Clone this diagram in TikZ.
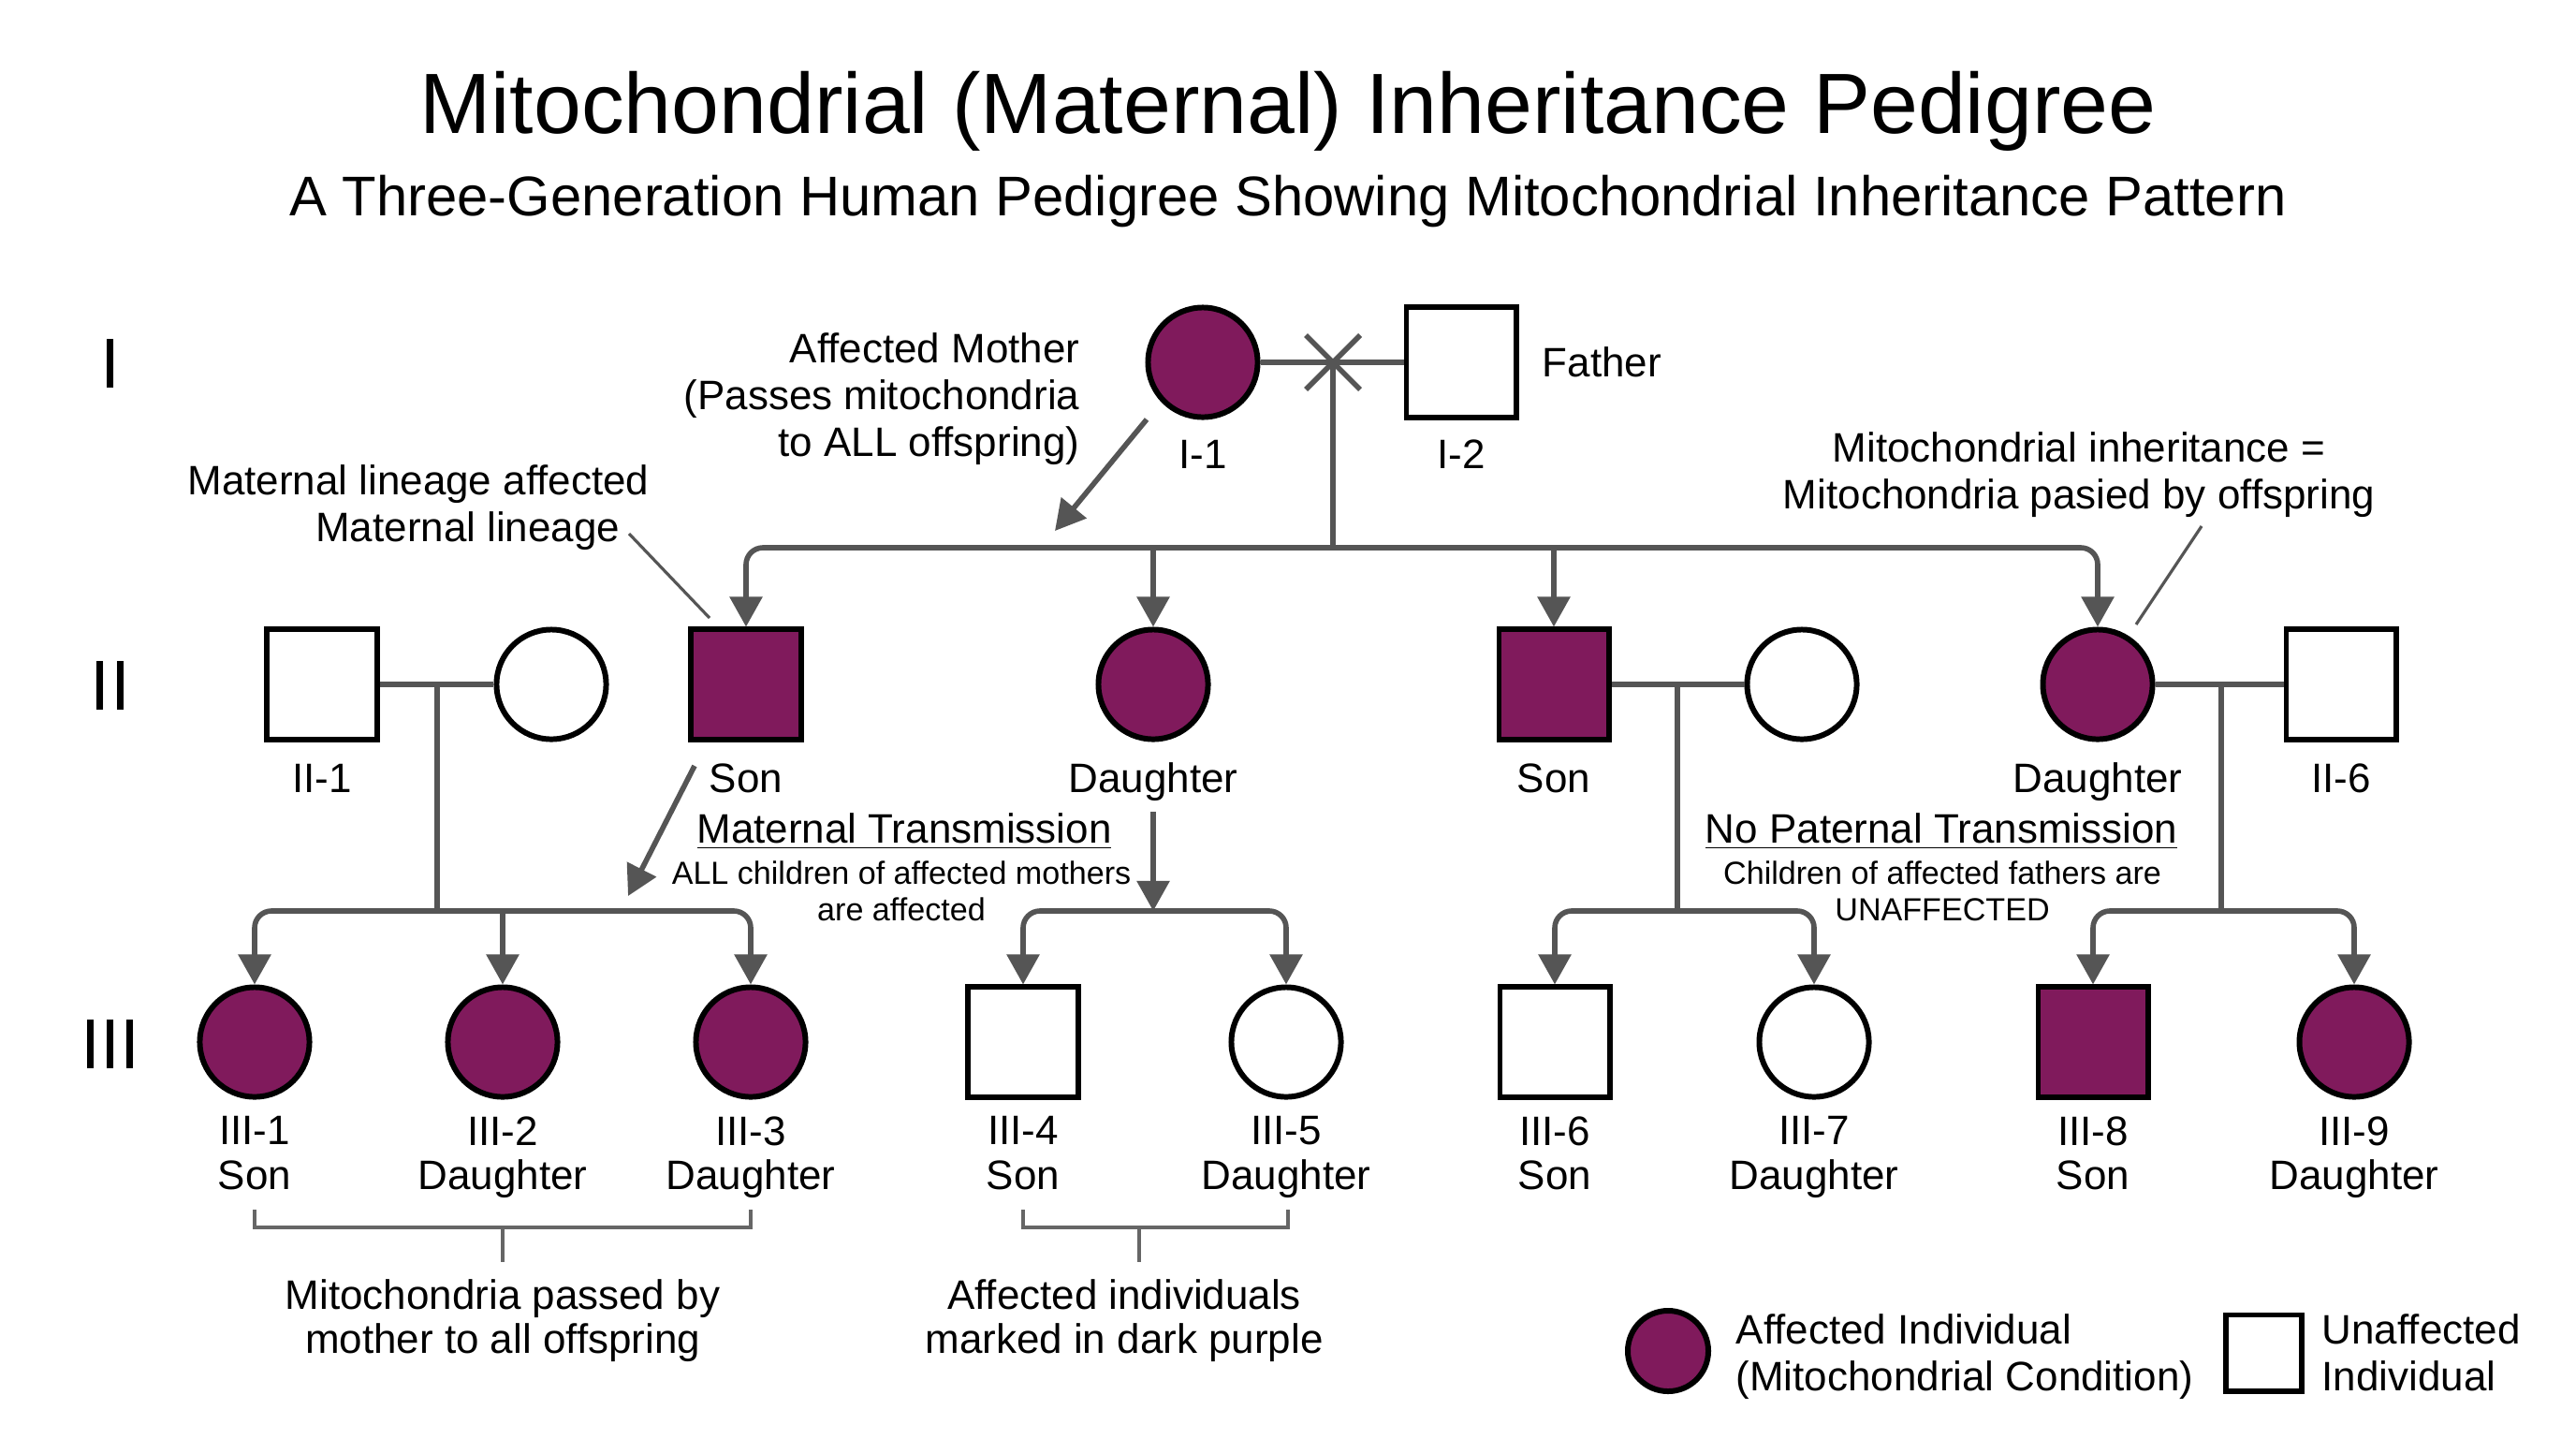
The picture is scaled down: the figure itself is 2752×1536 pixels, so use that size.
\documentclass[tikz,border=0pt]{standalone}
\usepackage{fontspec}
\setmainfont{Liberation Sans}
\usetikzlibrary{arrows.meta}
\definecolor{purp}{HTML}{801A5C}
\definecolor{lgray}{HTML}{555555}
\definecolor{bgray}{HTML}{666666}
\tikzset{
  ind/.style={draw=black, line width=1.7pt, fill=white, inner sep=0pt, minimum size=1.17cm},
  fem/.style={ind, circle},
  mal/.style={ind, rectangle},
  aff/.style={fill=purp},
  lbl/.style={inner sep=0pt, font=\fontsize{12.5}{14.2}\selectfont},
  lblthree/.style={inner sep=0pt, align=center, anchor=north, font=\fontsize{12.5}{13.4}\selectfont},
  smalltxt/.style={inner sep=0pt, align=center, anchor=north, font=\fontsize{9.7}{11.1}\selectfont},
  gen/.style={inner sep=0pt, anchor=base, font=\fontsize{21.5}{24}\selectfont},
  conn/.style={draw=lgray, line width=1.6pt},
  arrone/.style={-{Triangle[length=0.32cm,width=0.34cm]}},
  arrtwo/.style={{Triangle[length=0.32cm,width=0.34cm]}-{Triangle[length=0.32cm,width=0.34cm]}},
  pointer/.style={draw=lgray, line width=0.9pt},
  brk/.style={draw=bgray, line width=1.1pt},
}
\begin{document}
\begin{tikzpicture}[x=0.01cm, y=-0.01cm]
\fill[white] (0,0) rectangle (2752,1536);
\useasboundingbox (0,0) rectangle (2752,1536);

% titles
\node[inner sep=0pt, anchor=base, font=\fontsize{26}{30}\selectfont] (title) at (1376,142) {Mitochondrial (Maternal) Inheritance Pedigree};
\node[inner sep=0pt, anchor=base, font=\fontsize{17}{20}\selectfont] (subtitle) at (1376,230) {A Three-Generation Human Pedigree Showing Mitochondrial Inheritance Pattern};

% generation labels
\node[gen] (gI) at (118,414) {I};
\node[gen] (gII) at (118,758) {II};
\node[gen] (gIII) at (118,1141) {III};

% generation I
\node[fem, aff] (I1) at (1285,387) {};
\node[mal] (I2) at (1561,387) {};
\node[lbl, anchor=base] (I1l) at (1285,500) {I-1};
\node[lbl, anchor=base] (I2l) at (1561,500) {I-2};
\node[lbl, anchor=base west] (fath) at (1647,402) {Father};
\coordinate (mx) at (1424,387);
\coordinate (sI) at (1424,585);
\draw[conn] (I1) -- (I2);
\draw[conn] (mx) ++(-29,-29) -- ++(58,58);
\draw[conn] (mx) ++(-29,29) -- ++(58,-58);
\draw[conn] (mx) -- (sI);

% generation II
\node[mal] (II1) at (344,731) {};
\node[fem] (II1w) at (589,731) {};
\node[mal, aff] (II2) at (797,731) {};
\node[fem, aff] (II3) at (1232,731) {};
\node[mal, aff] (II4) at (1660,731) {};
\node[fem] (II4w) at (1925,731) {};
\node[fem, aff] (II5) at (2241,731) {};
\node[mal] (II6) at (2501,731) {};
\node[lbl, anchor=base] (II1l) at (344,846) {II-1};
\node[lbl, anchor=base] (II2l) at (797,846) {Son};
\node[lbl, anchor=base] (II3l) at (1232,846) {Daughter};
\node[lbl, anchor=base] (II4l) at (1660,846) {Son};
\node[lbl, anchor=base] (II5l) at (2241,846) {Daughter};
\node[lbl, anchor=base] (II6l) at (2501,846) {II-6};

\draw[conn, arrtwo, rounded corners=0.18cm] (II2.north) |- (sI) -| (II5.north);
\draw[conn, arrone] (II3 |- sI) -- (II3.north);
\draw[conn, arrone] (II4 |- sI) -- (II4.north);

% generation III
\node[fem, aff] (III1) at (272,1113) {};
\node[fem, aff] (III2) at (537,1113) {};
\node[fem, aff] (III3) at (802,1113) {};
\node[mal] (III4) at (1093,1113) {};
\node[fem] (III5) at (1374,1113) {};
\node[mal] (III6) at (1661,1113) {};
\node[fem] (III7) at (1938,1113) {};
\node[mal, aff] (III8) at (2236,1113) {};
\node[fem, aff] (III9) at (2515,1113) {};
\node[lblthree] (III1l) at (272,1192) {III-1\\Son};
\node[lblthree] (III2l) at (537,1192) {III-2\\Daughter};
\node[lblthree] (III3l) at (802,1192) {III-3\\Daughter};
\node[lblthree] (III4l) at (1093,1192) {III-4\\Son};
\node[lblthree] (III5l) at (1374,1192) {III-5\\Daughter};
\node[lblthree] (III6l) at (1661,1192) {III-6\\Son};
\node[lblthree] (III7l) at (1938,1192) {III-7\\Daughter};
\node[lblthree] (III8l) at (2236,1192) {III-8\\Son};
\node[lblthree] (III9l) at (2515,1192) {III-9\\Daughter};

% couples and sibships
\coordinate (m1) at (467,731); \coordinate (s1) at (467,973);
\draw[conn] (II1) -- (II1w);
\draw[conn] (m1) -- (s1);
\draw[conn, arrtwo, rounded corners=0.18cm] (III1.north) |- (s1) -| (III3.north);
\draw[conn, arrone] (III2 |- s1) -- (III2.north);

\coordinate (d0) at (1232,867); \coordinate (s4) at (1232,973);
\draw[conn, arrone] (d0) -- (s4);
\draw[conn, arrtwo, rounded corners=0.18cm] (III4.north) |- (s4) -| (III5.north);

\coordinate (m2) at (1792,731); \coordinate (s2) at (1792,973);
\draw[conn] (II4) -- (II4w);
\draw[conn] (m2) -- (s2);
\draw[conn, arrtwo, rounded corners=0.18cm] (III6.north) |- (s2) -| (III7.north);

\coordinate (m3) at (2373,731); \coordinate (s3) at (2373,973);
\draw[conn] (II5) -- (II6);
\draw[conn] (m3) -- (s3);
\draw[conn, arrtwo, rounded corners=0.18cm] (III8.north) |- (s3) -| (III9.north);

% diagonal arrows
\coordinate (sa0) at (742,818); \coordinate (sa1) at (671,957);
\draw[conn, arrone] (sa0) -- (sa1);
\coordinate (ma0) at (1225,448); \coordinate (ma1) at (1127,567);
\draw[conn, arrone] (ma0) -- (ma1);

% annotations
\node[lbl, align=right, anchor=north east] (amom) at (1154,355) {Affected Mother\\(Passes mitochondria\\to ALL offspring)};
\node[lbl, anchor=base east] (ml1) at (694,528) {Maternal lineage affected};
\node[lbl, anchor=base east] (ml2) at (663,578) {Maternal lineage};
\coordinate (p1a) at (672,570); \coordinate (p1b) at (758,660);
\draw[pointer] (p1a) -- (p1b);

\node[lbl, align=center, anchor=north] (mi) at (2221,461) {Mitochondrial inheritance =\\Mitochondria pasied by offspring};
\coordinate (p2a) at (2352,562); \coordinate (p2b) at (2282,667);
\draw[pointer] (p2a) -- (p2b);

\node[lbl, anchor=base] (mt) at (966,900) {\underline{Maternal Transmission}};
\node[smalltxt] (mtx) at (963,919) {ALL children of affected mothers\\are affected};
\node[lbl, anchor=base] (npt) at (2074,900) {\underline{No Paternal Transmission}};
\node[smalltxt] (nptx) at (2075,919) {Children of affected fathers are\\UNAFFECTED};

% brackets
\coordinate (b1l) at (272,1292); \coordinate (b1r) at (802,1292);
\coordinate (b1c) at (537,1311); \coordinate (b1s) at (537,1348);
\draw[brk] (b1l) |- (b1c) -| (b1r);
\draw[brk] (b1c) -- (b1s);
\coordinate (b2l) at (1093,1292); \coordinate (b2r) at (1376,1292);
\coordinate (b2c) at (1217,1311); \coordinate (b2s) at (1217,1348);
\draw[brk] (b2l) |- (b2c) -| (b2r);
\draw[brk] (b2c) -- (b2s);
\node[lblthree] (bt1) at (537,1366) {Mitochondria passed by\\mother to all offspring};
\node[lblthree] (bt2) at (1201,1366) {Affected individuals\\marked in dark purple};

% legend
\node[fem, aff, minimum size=0.86cm] (lg1) at (1782,1443) {};
\node[lbl, align=left, anchor=north west] (lg1t) at (1854,1403) {Affected Individual\\(Mitochondrial Condition)};
\node[mal, minimum size=0.81cm] (lg2) at (2418,1445) {};
\node[lbl, align=left, anchor=north west] (lg2t) at (2480,1403) {Unaffected\\Individual};
\end{tikzpicture}
\end{document}
